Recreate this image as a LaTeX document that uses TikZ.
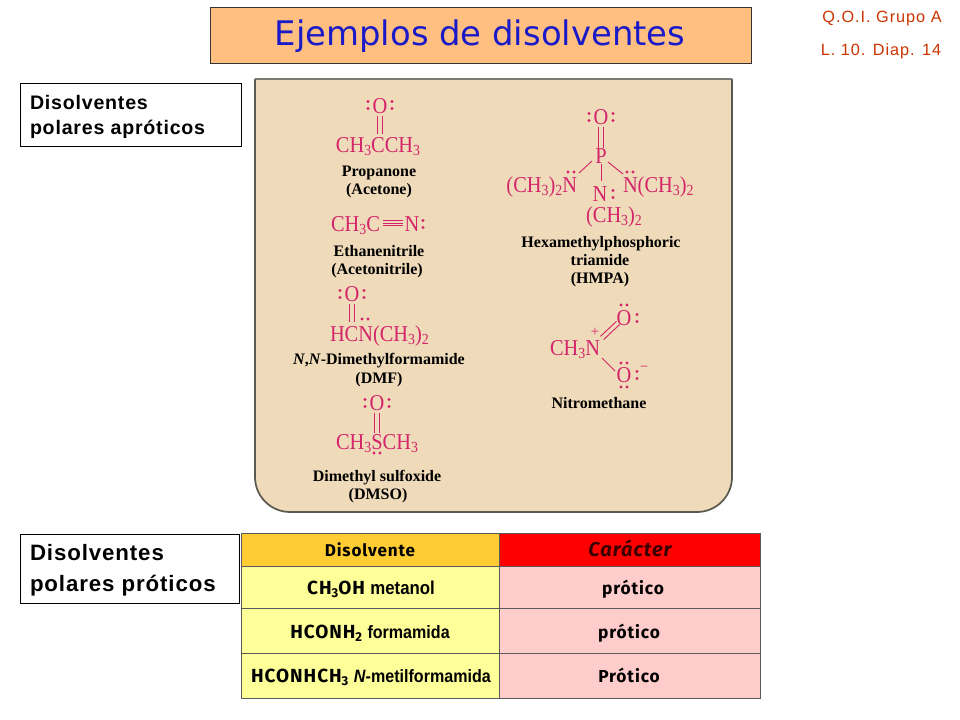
\documentclass[tikz,border=0pt]{standalone}
\usepackage{fontspec}
\setmainfont{Liberation Serif}
\newfontfamily\molfont[FakeStretch=0.9]{Liberation Serif}
\newfontfamily\titlefont{DejaVu Sans}
\newfontfamily\arialfont[LetterSpace=4]{Liberation Sans}
\newfontfamily\notefont[LetterSpace=6]{Liberation Sans}
\newfontfamily\comicfont[LetterSpace=5]{Fira Sans}
\newfontfamily\narrowfont[FakeStretch=0.9]{Liberation Sans}
\definecolor{panelfill}{HTML}{EFDAB9}
\definecolor{molcolor}{HTML}{D4256B}
\definecolor{titlefill}{HTML}{FFBF80}
\definecolor{titleblue}{HTML}{1A1AC8}
\definecolor{noteRed}{HTML}{CC3300}
\definecolor{headA}{HTML}{FFCC33}
\definecolor{headB}{HTML}{FF0000}
\definecolor{cellA}{HTML}{FFFF99}
\definecolor{cellB}{HTML}{FFCCCC}
\definecolor{edgegrey}{HTML}{5A5A50}
\definecolor{darkred}{HTML}{3A0000}
\newcommand{\sbs}[1]{\raisebox{-.28ex}{\scalebox{.68}{#1}}}
\newcommand{\lonepairh}[2]{\fill[molcolor] (#1-3,#2) circle (1.6) (#1+3,#2) circle (1.6);}
\newcommand{\lonepairv}[2]{\fill[molcolor] (#1,#2-3.5) circle (1.6) (#1,#2+3.5) circle (1.6);}
\tikzset{
  x=0.75pt,y=-0.75pt,
  every node/.style={inner sep=0pt,outer sep=0pt},
  mol/.style={text=molcolor,anchor=base,yshift=-1pt,font=\molfont\fontsize{17}{19}\selectfont},
  moll/.style={mol,anchor=base west},
  molr/.style={mol,anchor=base east},
  lbl/.style={text=black,anchor=base,yshift=-0.8pt,font=\fontsize{12}{14}\selectfont\bfseries},
  bond/.style={draw=molcolor,line width=0.7pt},
  sidebox/.style={draw=black,line width=0.6pt,fill=white,anchor=north west},
  sidetext/.style={anchor=base west,text=black,yshift=-1pt},
  cell/.style={draw=black!65,line width=0.7pt,anchor=north west},
  celltext/.style={text=black,anchor=base,yshift=-0.7pt},
  rednote/.style={text=noteRed,anchor=base,yshift=-0.8pt,font=\notefont\fontsize{12.2}{14}\selectfont}
}
\begin{document}
\begin{tikzpicture}
\useasboundingbox (0,0) rectangle (960,720);
\fill[white] (0,0) rectangle (960,720);
% title
\node[draw=black!80,line width=0.5pt,fill=titlefill,anchor=north west,minimum width=405.75pt,minimum height=42pt] (titlebox) at (210,7) {};
\node[text=titleblue,font=\titlefont\fontsize{25.4}{28}\selectfont] (title) at (480,36) {Ejemplos de disolventes};
\node[rednote] (noteA) at (882,21) {Q.O.I. Grupo A};
\node[rednote] (noteB) at (881,54) {L. 10. Diap. 14};
% side boxes
\node[sidebox,minimum width=165.75pt,minimum height=47.25pt] (boxA) at (20,83) {};
\node[sidetext,font=\arialfont\bfseries\fontsize{14.7}{16}\selectfont] (boxAa) at (30,108) {Disolventes};
\node[sidetext,font=\arialfont\bfseries\fontsize{14.7}{16}\selectfont] (boxAb) at (30,133) {polares apróticos};
\node[sidebox,minimum width=164.25pt,minimum height=51.75pt] (boxB) at (20,534) {};
\node[sidetext,font=\arialfont\bfseries\fontsize{16.7}{18}\selectfont] (boxBa) at (30,559) {Disolventes};
\node[sidetext,font=\arialfont\bfseries\fontsize{16.7}{18}\selectfont] (boxBb) at (30,590) {polares próticos};
% panel
\fill[panelfill] (255,79) -- (732,79) -- (732,477) arc[start angle=0,end angle=90,radius=35] -- (290,512) arc[start angle=90,end angle=180,radius=35] -- cycle;
\draw[edgegrey,line width=1.3pt] (732,79) -- (732,477) arc[start angle=0,end angle=90,radius=35] -- (290,512) arc[start angle=90,end angle=180,radius=35] -- (255,79);
\draw[edgegrey!80,line width=1pt] (255,79) -- (732,79);
% propanone
\node[mol] (o1) at (380,112) {O};
\node[mol] (m1) at (378,151) {CH\sbs{3}CCH\sbs{3}};
\coordinate (m1c) at (380,134);
\draw[bond] ([shift={(-1.7pt,-1.5pt)}]o1.south) -- ([xshift=-1.7pt]m1c);
\draw[bond] ([shift={(1.7pt,-1.5pt)}]o1.south) -- ([xshift=1.7pt]m1c);
\lonepairv{368}{105}
\lonepairv{392}{105}
\node[lbl] (l1a) at (379,175) {Propanone};
\node[lbl] (l1b) at (379,193) {(Acetone)};
% acetonitrile
\node[moll] (m2) at (331,230) {CH\sbs{3}C};
\node[mol] (n2) at (412,230) {N};
\lonepairv{423}{224}
\coordinate (t2a) at (383,223);
\coordinate (t2b) at (403,223);
\draw[bond] (t2a) -- (t2b);
\draw[bond] ([yshift=2.2pt]t2a) -- ([yshift=2.2pt]t2b);
\draw[bond] ([yshift=-2.2pt]t2a) -- ([yshift=-2.2pt]t2b);
\node[lbl] (l2a) at (379,255) {Ethanenitrile};
\node[lbl] (l2b) at (377,273) {(Acetonitrile)};
% DMF
\node[mol] (o3) at (352,300) {O};
\lonepairv{340}{294}
\lonepairv{364}{294}
\node[moll] (m3) at (330,340) {HCN(CH\sbs{3})\sbs{2}};
\coordinate (m3c) at (352,322);
\draw[bond] ([shift={(-1.7pt,-1.5pt)}]o3.south) -- ([xshift=-1.7pt]m3c);
\draw[bond] ([shift={(1.7pt,-1.5pt)}]o3.south) -- ([xshift=1.7pt]m3c);
\lonepairh{365}{319}
\node[lbl] (l3a) at (379,363) {\textit{N},\textit{N}-Dimethylformamide};
\node[lbl] (l3b) at (379,382) {(DMF)};
% DMSO
\node[mol] (o4) at (377,409) {O};
\lonepairv{365}{403}
\lonepairv{389}{403}
\node[mol] (m4) at (377,448) {CH\sbs{3}SCH\sbs{3}};
\coordinate (m4c) at (377,433);
\draw[bond] ([shift={(-1.7pt,-1.5pt)}]o4.south) -- ([xshift=-1.7pt]m4c);
\draw[bond] ([shift={(1.7pt,-1.5pt)}]o4.south) -- ([xshift=1.7pt]m4c);
\lonepairh{377}{453}
\node[lbl] (l4a) at (377,480) {Dimethyl sulfoxide};
\node[lbl] (l4b) at (378,498) {(DMSO)};
% HMPA
\node[mol] (o5) at (601,123) {O};
\lonepairv{589}{117}
\lonepairv{613}{117}
\node[mol] (p5) at (601,162) {P};
\draw[bond] ([shift={(-1.7pt,-1.5pt)}]o5.south) -- ([xshift=-1.7pt]p5.north);
\draw[bond] ([shift={(1.7pt,-1.5pt)}]o5.south) -- ([xshift=1.7pt]p5.north);
\node[molr] (n5a) at (577,191) {(CH\sbs{3})\sbs{2}N};
\node[moll] (n5b) at (623,191) {N(CH\sbs{3})\sbs{2}};
\node[mol] (n5c) at (600,200) {N};
\lonepairv{613}{194}
\node[mol] (c5) at (614,221) {(CH\sbs{3})\sbs{2}};
\coordinate (p5l) at (592,161);
\coordinate (p5r) at (608,162);
\coordinate (p5m) at (601,164);
\coordinate (n5al) at (579,173);
\coordinate (n5br) at (623,174);
\coordinate (n5cm) at (601,181);
\draw[bond] (p5l) -- (n5al);
\draw[bond] (p5r) -- (n5br);
\draw[bond] (p5m) -- (n5cm);
\lonepairh{571}{172}
\lonepairh{630}{172}
\node[lbl] (l5a) at (601,246) {Hexamethylphosphoric};
\node[lbl] (l5b) at (600,264) {triamide};
\node[lbl] (l5c) at (600,282) {(HMPA)};
% nitromethane
\node[molr] (n6) at (600,354) {CH\sbs{3}N};
\node[mol] (o6a) at (624,324) {O};
\node[mol] (o6b) at (624,381) {O};
\node[text=molcolor,font=\fontsize{11}{12}\selectfont] (plus6) at (595,332) {+};
\node[text=molcolor,font=\fontsize{11}{12}\selectfont] (minus6) at (644,369) {\textminus};
\coordinate (n6u) at (602,338);
\coordinate (o6au) at (618,323);
\coordinate (n6d) at (602,358);
\coordinate (o6bd) at (615,371);
\draw[bond] ([shift={(-1.2pt,1.2pt)}]n6u) -- ([shift={(-1.2pt,1.2pt)}]o6au);
\draw[bond] ([shift={(1.2pt,-1.2pt)}]n6u) -- ([shift={(1.2pt,-1.2pt)}]o6au);
\draw[bond] (n6d) -- (o6bd);
\lonepairh{624}{305}
\lonepairv{637}{318}
\lonepairh{624}{363}
\lonepairh{624}{387}
\lonepairv{637}{375}
\node[lbl] (l6) at (599,407) {Nitromethane};
% table
\node[cell,fill=headA,minimum width=193.5pt,minimum height=24.75pt] (h1) at (241,533) {};
\node[cell,fill=headB,minimum width=195.75pt,minimum height=24.75pt] (h2) at (499,533) {};
\node[cell,fill=cellA,minimum width=193.5pt,minimum height=31.5pt] (a1) at (241,566) {};
\node[cell,fill=cellB,minimum width=195.75pt,minimum height=31.5pt] (b1) at (499,566) {};
\node[cell,fill=cellA,minimum width=193.5pt,minimum height=33.75pt] (a2) at (241,608) {};
\node[cell,fill=cellB,minimum width=195.75pt,minimum height=33.75pt] (b2) at (499,608) {};
\node[cell,fill=cellA,minimum width=193.5pt,minimum height=33.75pt] (a3) at (241,653) {};
\node[cell,fill=cellB,minimum width=195.75pt,minimum height=33.75pt] (b3) at (499,653) {};
\node[celltext,font=\comicfont\bfseries\fontsize{12.8}{14}\selectfont] (th1) at (370,555.5) {Disolvente};
\node[text=darkred,anchor=base,font=\comicfont\bfseries\itshape\fontsize{15}{15}\selectfont] (th2) at (630,556.5) {Carácter};
\node[celltext] (t1) at (371,594) {\comicfont\bfseries\fontsize{14.2}{14}\selectfont CH\sbs{3}OH \narrowfont\bfseries\fontsize{14}{14}\selectfont metanol};
\node[celltext] (t2) at (370,638) {\comicfont\bfseries\fontsize{14.2}{14}\selectfont HCONH\sbs{2} \narrowfont\bfseries\fontsize{13.4}{14}\selectfont formamida};
\node[celltext] (t3) at (371,682) {\comicfont\bfseries\fontsize{14.2}{14}\selectfont HCONHCH\sbs{3} \narrowfont\bfseries\fontsize{13.4}{14}\selectfont\textit{N}-metilformamida};
\node[celltext,font=\comicfont\bfseries\fontsize{13}{14}\selectfont] (u1) at (633,594) {prótico};
\node[celltext,font=\comicfont\bfseries\fontsize{13}{14}\selectfont] (u2) at (629,638) {prótico};
\node[celltext,font=\comicfont\bfseries\fontsize{13}{14}\selectfont] (u3) at (629,682) {Prótico};
\end{tikzpicture}
\end{document}
